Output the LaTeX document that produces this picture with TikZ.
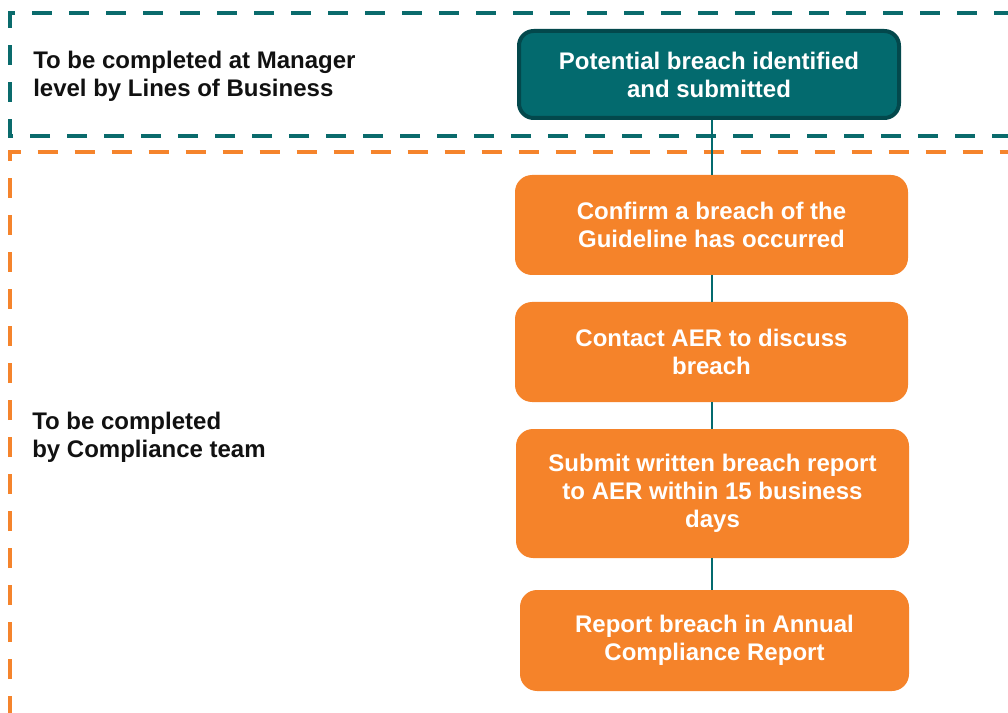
\documentclass[tikz,border=0pt]{standalone}
\usepackage{fontspec}
\setmainfont{Liberation Sans}
\definecolor{tealfill}{HTML}{036A6E}
\definecolor{tealedge}{HTML}{03484C}
\definecolor{tealdash}{HTML}{0A6B6C}
\definecolor{orangefill}{HTML}{F5832A}
\definecolor{orangedash}{HTML}{F5842C}
\definecolor{labeltext}{HTML}{111111}
\tikzset{
  x=0.75pt, y=-0.75pt,
  txt/.style={font=\bfseries\fontsize{18pt}{21pt}\selectfont, align=center},
  lanelabel/.style={font=\bfseries\fontsize{18pt}{21pt}\selectfont, align=left,
    text=labeltext, inner sep=0pt, anchor=base west},
  tealbox/.style={txt, text=white, fill=tealfill, draw=tealedge, line width=3pt,
    rounded corners=11pt, minimum width=285pt, minimum height=65.25pt, inner sep=0pt},
  orangebox/.style={txt, text=white, fill=orangefill, draw=none,
    rounded corners=12.75pt, minimum width=294.75pt, minimum height=75pt, inner sep=0pt},
  lanedash/.style={line width=3pt, dash pattern=on 15pt off 12.75pt},
  link/.style={draw=tealfill, line width=1.1pt},
}
\begin{document}
\begin{tikzpicture}
\useasboundingbox (0,0) rectangle (1008,713);
\clip (0,0) rectangle (1008,713);

% swim-lane frames
\draw[lanedash, draw=tealdash] (1012,136) -- (10,136) -- (10,13) -- (1012,13);
\draw[lanedash, draw=orangedash] (9.5,716) -- (9.5,152) -- (1012,152);

% lane labels (anchored on the baseline of the last line)
\node[lanelabel] (lblmgr) at (33,96.7) {To be completed at Manager\\level by Lines of Business};
\node[lanelabel] (lblcomp) at (32,457) {To be completed\\by Compliance team};

% process steps
\node[tealbox] (s1) at (709,74.5) {Potential breach identified\\and submitted};
\node[orangebox] (s2) at (711.5,225) {Confirm a breach of the\\Guideline has occurred};
\node[orangebox] (s3) at (711.5,352) {Contact AER to discuss\\breach};
\node[orangebox, minimum height=96.75pt] (s4) at (712.5,493.5) {Submit written breach report\\to AER within 15 business\\days};
\node[orangebox, minimum width=291.75pt, minimum height=75.75pt] (s5) at (714.5,640.5) {Report breach in Annual\\Compliance Report};

% connectors
\coordinate (spine) at (712,0);
\draw[link] (s1.south -| spine) -- (s2.north -| spine);
\draw[link] (s2.south -| spine) -- (s3.north -| spine);
\draw[link] (s3.south -| spine) -- (s4.north -| spine);
\draw[link] (s4.south -| spine) -- (s5.north -| spine);
\end{tikzpicture}
\end{document}
